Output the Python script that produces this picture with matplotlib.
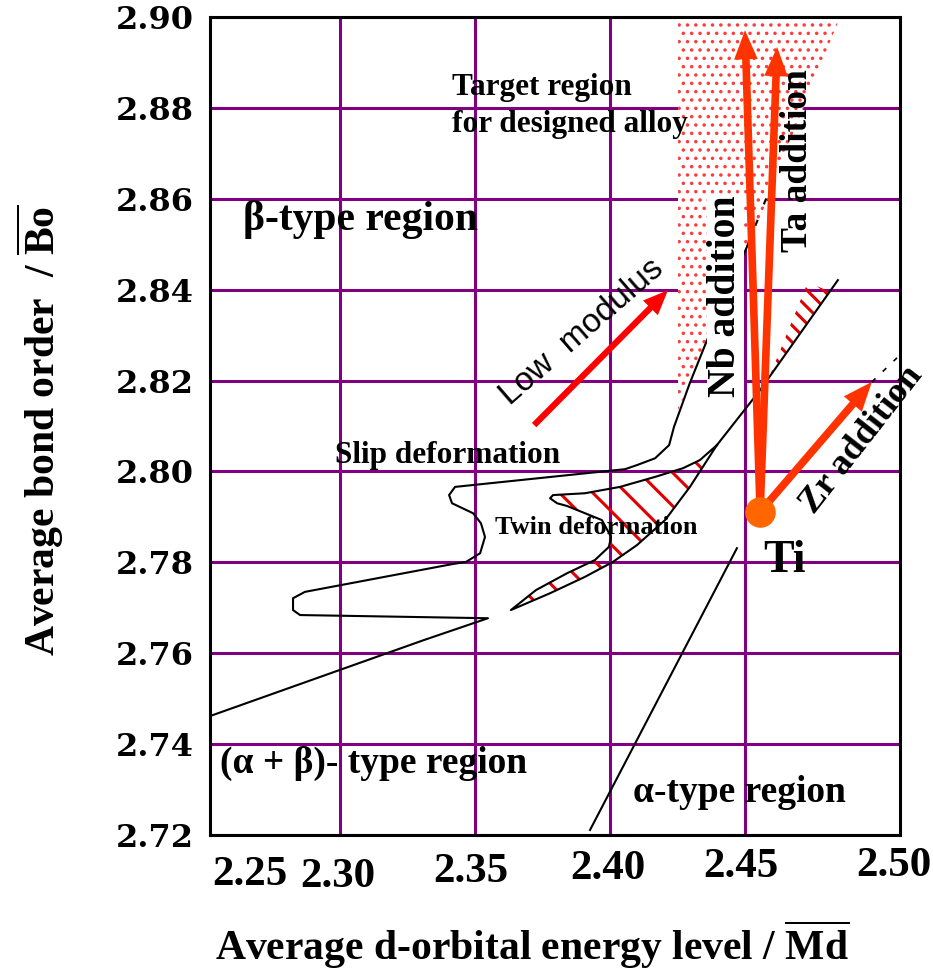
import matplotlib
matplotlib.use('Agg')
import matplotlib.pyplot as plt
from matplotlib.patches import Polygon
from matplotlib.transforms import blended_transform_factory, offset_copy

plt.rcParams['font.family'] = 'Liberation Serif'
plt.rcParams['font.weight'] = 'bold'
plt.rcParams['mathtext.fontset'] = 'custom'
plt.rcParams['mathtext.rm'] = 'Liberation Serif:bold'
plt.rcParams['mathtext.bf'] = 'Liberation Serif:bold'
plt.rcParams['hatch.linewidth'] = 2.2

# axes
md_ticks = [2.25, 2.30, 2.35, 2.40, 2.45, 2.50]
md_grid = [2.30, 2.35, 2.40, 2.45]
bo_ticks = [2.72, 2.74, 2.76, 2.78, 2.80, 2.82, 2.84, 2.86, 2.88, 2.90]

# slip deformation / beta boundary
slip_md = [2.252, 2.3311, 2.3548, 2.2852, 2.2826, 2.2826, 2.2870, 2.3415, 2.3467,
           2.3519, 2.3537, 2.3522, 2.3493, 2.3415, 2.3404, 2.3426, 2.4056, 2.4100,
           2.4167, 2.4219, 2.4237, 2.4296, 2.4400, 2.4507]
slip_bo = [2.7462, 2.7629, 2.7677, 2.7684, 2.7695, 2.7721, 2.7735, 2.7796, 2.7801,
           2.7820, 2.7856, 2.7886, 2.7908, 2.7930, 2.7948, 2.7966, 2.8005, 2.8014,
           2.8029, 2.8058, 2.8098, 2.8195, 2.8349, 2.8494]
slip_dash_md = [2.4507, 2.4625]
slip_dash_bo = [2.8494, 2.8670]

# twin deformation region
twin_md = [2.4396, 2.4333, 2.4270, 2.4167, 2.4037, 2.3907, 2.3789, 2.3778, 2.3804,
           2.3841, 2.3970, 2.4004, 2.3996, 2.3944, 2.3841, 2.3726, 2.3633, 2.3778,
           2.3907, 2.4011, 2.4100, 2.4204, 2.4296]
twin_bo = [2.8058, 2.8025, 2.8007, 2.7988, 2.7966, 2.7952, 2.7948, 2.7941, 2.7930,
           2.7924, 2.7893, 2.7856, 2.7834, 2.7805, 2.7776, 2.7739, 2.7695, 2.7732,
           2.7768, 2.7801, 2.7838, 2.7893, 2.7966]
edge_md = [2.4396, 2.4556, 2.4844]
edge_bo = [2.8058, 2.8179, 2.8421]
tri_md = [2.4593, 2.4733, 2.4815]
tri_bo = [2.8212, 2.8417, 2.8395]

# target region
target_md = [2.4252, 2.4852, 2.4619, 2.4567, 2.4507, 2.4400, 2.4296, 2.4252]
target_bo = [2.90, 2.90, 2.8657, 2.8575, 2.8494, 2.8349, 2.8195, 2.8135]

# alpha boundary
alpha_md = [2.3926, 2.4470]
alpha_bo = [2.7211, 2.7831]

# Ti and alloying vectors
ti = (2.4556, 2.7911)
nb_tip = (2.4500, 2.8971)
ta_tip = (2.4619, 2.8934)
zr_tip = (2.4970, 2.8197)
zr_dash_md = [2.4970, 2.5063]
zr_dash_bo = [2.8197, 2.8250]
lowmod_tail = (2.3719, 2.8102)
lowmod_tip = (2.4215, 2.8399)

fig = plt.figure(figsize=(9.33, 9.73), dpi=100)
ax = fig.add_axes([210 / 933, 138 / 973, 690 / 933, 818 / 973])
ax.set_xlim(2.25185, 2.50741)
ax.set_ylim(2.72, 2.90)

ax.set_axisbelow(True)
ax.set_xticks(md_grid)
ax.set_xticklabels([])
ax.set_yticks(bo_ticks)
ax.set_yticklabels([f'{v:.2f}' for v in bo_ticks], fontfamily='DejaVu Serif',
                   fontweight='bold', fontsize=23)
ax.tick_params(length=0)
ax.tick_params(axis='y', pad=12)
ax.grid(True, color='#800080', lw=2.2)
for s in ax.spines.values():
    s.set_linewidth(2.2)
    s.set_zorder(10)

# x tick labels (slightly staggered as in the original)
offs = [(45, -40), (-2, -42), (-4, -37), (-2, -34), (-4, -32), (14, -31)]
base = blended_transform_factory(ax.transData, ax.transAxes)
for v, (dx, dy) in zip(md_ticks, offs):
    tr = offset_copy(base, fig=fig, x=dx, y=dy, units='dots')
    ax.text(v, 0, f'{v:.2f}', transform=tr, ha='center', va='center',
            fontsize=31, clip_on=False)

# target region
tgt = Polygon(list(zip(target_md, target_bo)), closed=True, facecolor='white',
              edgecolor='#ff3c3c', hatch='..', lw=0, zorder=1)
if hasattr(tgt, 'set_hatch_linewidth'):
    tgt.set_hatch_linewidth(1.3)
ax.add_patch(tgt)

# twin region hatch
tw = Polygon(list(zip(twin_md, twin_bo)), closed=True, fill=False,
             edgecolor='#e00000', hatch='\\', lw=0, zorder=2)
ax.add_patch(tw)
tr_p = Polygon(list(zip(tri_md, tri_bo)), closed=True, fill=False,
               edgecolor='#e00000', hatch='\\\\', lw=0, zorder=2)
ax.add_patch(tr_p)
ax.plot(twin_md + [twin_md[0]], twin_bo + [twin_bo[0]], color='black', lw=1.5, zorder=3)
ax.plot(edge_md, edge_bo, color='black', lw=1.5, zorder=3)

# slip boundary
ax.plot(slip_md, slip_bo, color='black', lw=1.5, zorder=3)
ax.plot(slip_dash_md, slip_dash_bo, color='black', lw=1.5, ls=(0, (3, 8)), zorder=3)
ax.plot(alpha_md, alpha_bo, color='black', lw=1.5, zorder=3)
ax.plot(zr_dash_md, zr_dash_bo, color='black', lw=1.2, ls=(0, (3, 6)), zorder=3)

# texts
ax.text(2.3415, 2.8828, 'Target region', fontsize=22.5, zorder=4)
ax.text(2.3415, 2.8747, 'for designed alloy', fontsize=22.5, zorder=4)
ax.text(2.2641, 2.8531, '\u03b2-type region', fontsize=30, zorder=4)
ax.text(2.2981, 2.8018, 'Slip deformation', fontsize=22.5, zorder=4)
ax.text(2.3574, 2.7862, 'Twin deformation', fontsize=19, zorder=4)
ax.text(2.4567, 2.7779, 'Ti', fontsize=33, zorder=4)
ax.text(2.2556, 2.7336, '(\u03b1 + \u03b2)- type region', fontsize=27, zorder=4)
ax.text(2.4085, 2.7272, '\u03b1-type region', fontsize=27, zorder=4)
ax.text(2.3896, 2.8307, 'Low  modulus', family='Liberation Sans', fontweight='normal',
        fontsize=24, rotation=41, ha='center', va='center', zorder=4)
ax.text(2.4426, 2.8385, 'Nb addition', fontsize=28.5, rotation=90, ha='center', va='center',
        zorder=4, bbox=dict(facecolor='white', edgecolor='none', pad=0))
ax.text(2.4696, 2.8685, 'Ta addition', fontsize=27, rotation=90, ha='center', va='center',
        zorder=4)
ax.text(2.4933, 2.8069, 'Zr addition', fontsize=26, rotation=52, ha='center', va='center',
        zorder=4)

# arrows
def arrow(tail, tip, color, w=5.5, hw=17, hl=21):
    ax.annotate('', xy=tip, xytext=tail,
                arrowprops=dict(facecolor=color, edgecolor=color, lw=0, width=w,
                                headwidth=hw, headlength=hl, shrink=0),
                zorder=5)

arrow(lowmod_tail, lowmod_tip, '#ff0000', w=4.5, hw=15, hl=18)
arrow(ti, nb_tip, '#ff3300')
arrow(ti, ta_tip, '#ff3300')
arrow(ti, zr_tip, '#ff3300')
ax.plot(*ti, 'o', color='#ff6600', markersize=21, zorder=6)

fig.text(0.570, 13 / 973, r'Average d-orbital energy level / $\overline{\mathrm{Md}}$',
         ha='center', va='baseline', fontsize=30)
fig.text(40 / 933, 0.558, r'Average bond order  / $\overline{\mathrm{Bo}}$',
         ha='center', va='center', rotation=90, fontsize=30)

fig.savefig('out.png', dpi=100)
